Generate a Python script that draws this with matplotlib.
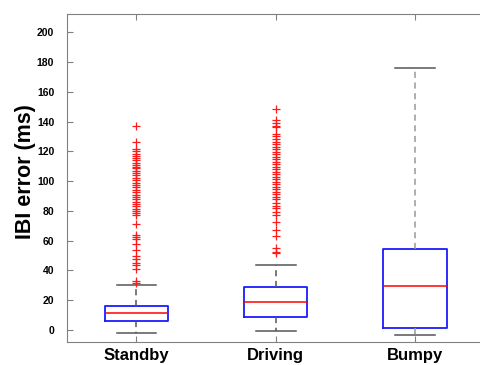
import matplotlib
matplotlib.use('Agg')
import matplotlib.pyplot as plt

plt.rcParams['font.family'] = ['Liberation Sans', 'DejaVu Sans']

# Condition names
conditions = ['Standby', 'Driving', 'Bumpy']

# box statistics (ms)
medians = [11.2, 18.6, 29.6]
q1 = [6.2, 8.7, 1.5]
q3 = [16.3, 29.1, 54.4]
whisker_low = [-2.2, -0.5, -3.6]
whisker_high = [30.0, 43.5, 175.8]

# outliers
standby_outliers = [137, 126, 121.5, 120, 118.5, 117, 115.5, 114, 112.5, 111, 109.5, 108.5,
                    107, 105.5, 104, 102, 100.5, 99, 97.5, 96, 94, 92.5, 91, 89, 88, 86,
                    84.5, 83, 81.5, 80, 78.5, 77, 71, 64, 62.5, 61, 58, 54, 50, 47.5, 45,
                    43.5, 41, 33, 31.5]
driving_outliers = [148.3, 141, 139, 137.3, 136.2, 131.5, 130, 128.3, 126.5, 124.8, 123,
                    121.4, 119.8, 118, 116.4, 114.7, 113, 111.5, 109.7, 108.2, 106.3, 104.8,
                    103, 101.4, 99.6, 98, 96.3, 94.5, 93, 91.2, 89.5, 88, 85.3, 83.5, 82,
                    79.5, 77.3, 72.4, 67.2, 63.2, 54.9, 52.6, 51.5]
bumpy_outliers = []

outliers = [standby_outliers, driving_outliers, bumpy_outliers]
whisker_colors = ['#555555', '#555555', '#999999']

stats = []
for i in range(len(conditions)):
    stats.append({
        'label': conditions[i],
        'med': medians[i],
        'q1': q1[i],
        'q3': q3[i],
        'whislo': whisker_low[i],
        'whishi': whisker_high[i],
        'fliers': outliers[i],
    })

fig = plt.figure(figsize=(4.8, 3.65), dpi=100)
ax = fig.add_axes([0.139, 0.0622, 0.8706, 0.8986])

bp = ax.bxp(stats, positions=[1, 2, 3], widths=0.453, capwidths=0.285,
            boxprops=dict(color='#1a1aff', linewidth=1.3),
            medianprops=dict(color='red', linewidth=1.1),
            whiskerprops=dict(linestyle=(0, (4, 3)), linewidth=1.1),
            capprops=dict(color='#555555', linewidth=1.1),
            flierprops=dict(marker='+', markeredgecolor='#ff1a1a', markersize=6,
                            markeredgewidth=0.9, linestyle='none'))

# whiskers colored per box
for i in range(len(conditions)):
    bp['whiskers'][2 * i].set_color(whisker_colors[i])
    bp['whiskers'][2 * i + 1].set_color(whisker_colors[i])

ax.set_xlim(0.5, 3.5)
ax.set_ylim(-8.3, 212.1)
ax.set_yticks(range(0, 201, 20))
ax.set_xticks([1, 2, 3])
ax.set_xticklabels(conditions, fontsize=12, fontweight='bold')
ax.tick_params(axis='y', labelsize=7.5, direction='in', length=4, color='#808080', pad=9)
ax.tick_params(axis='x', direction='in', length=4, color='#808080', top=True, pad=4)
for lab in ax.get_yticklabels():
    lab.set_fontweight('bold')
for s in ax.spines.values():
    s.set_color('#808080')
ax.set_ylabel('IBI error (ms)', fontsize=15.5, fontweight='bold')
ax.yaxis.set_label_coords(-0.074, 0.52)

fig.savefig('out.png', dpi=100)
